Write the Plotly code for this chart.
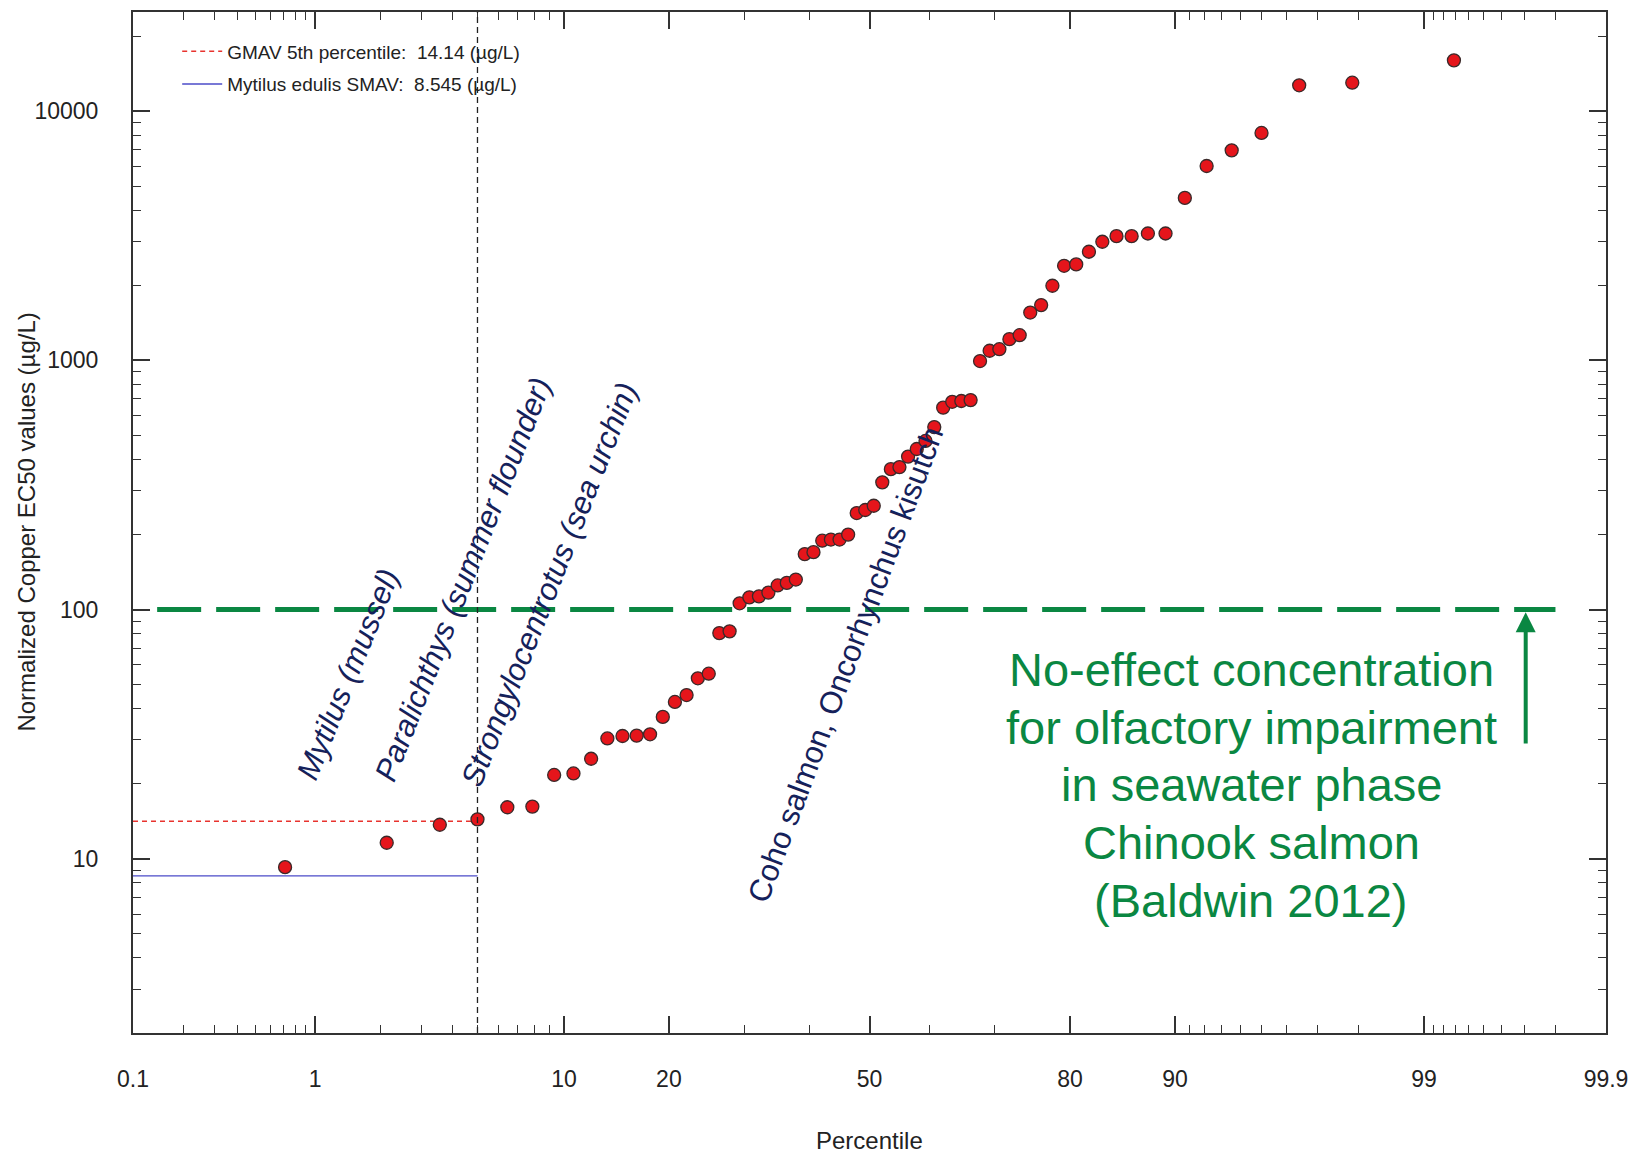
import plotly.graph_objects as go
from statistics import NormalDist
import math

_ND = NormalDist()


def z(p):
    """percentile (0-100) -> probit axis coordinate"""
    return _ND.inv_cdf(p / 100.0)


# ---------------- data ----------------
percentiles = [0.71, 2.14, 3.57, 5.00, 6.43, 7.86, 9.29, 10.71, 12.14, 13.57,
               15.00, 16.43, 17.86, 19.29, 20.71, 22.14, 23.57, 25.00, 26.43, 27.86,
               29.29, 30.71, 32.14, 33.57, 35.00, 36.43, 37.86, 39.29, 40.71, 42.14,
               43.57, 45.00, 46.43, 47.86, 49.29, 50.71, 52.14, 53.57, 55.00, 56.43,
               57.86, 59.29, 60.71, 62.14, 63.57, 65.00, 66.43, 67.86, 69.29, 70.71,
               72.14, 73.57, 75.00, 76.43, 77.86, 79.29, 80.71, 82.14, 83.57, 85.00,
               86.43, 87.86, 89.29, 90.71, 92.14, 93.57, 95.00, 96.43, 97.86, 99.29]
ec50 = [9.26, 11.6, 13.7, 14.4, 16.1, 16.2, 21.7, 22.0, 25.2, 30.4,
        31.1, 31.2, 31.6, 37.1, 42.6, 45.4, 53.0, 55.3, 80.5, 81.8,
        106, 112, 113, 117, 125, 128, 132, 167, 170, 189,
        191, 191, 200, 244, 251, 261, 324, 366, 373, 411,
        441, 475, 540, 646, 682, 687, 693, 994, 1093, 1109,
        1217, 1262, 1556, 1667, 1993, 2396, 2427, 2729, 2992, 3152,
        3152, 3230, 3230, 4486, 6026, 6964, 8176, 12700, 13010, 15990]

x_major = [0.1, 1, 10, 20, 50, 80, 90, 99, 99.9]
x_major_labels = ["0.1", "1", "10", "20", "50", "80", "90", "99", "99.9"]
x_minor = [0.2, 0.3, 0.4, 0.5, 0.6, 0.7, 0.8, 0.9,
           2, 3, 4, 5, 6, 7, 8, 9, 30, 40, 60, 70,
           91, 92, 93, 94, 95, 96, 97, 98,
           99.1, 99.2, 99.3, 99.4, 99.5, 99.6, 99.7, 99.8]
y_major = [10, 100, 1000, 10000]
y_major_labels = ["10", "100", "1000", "10000"]
y_minor = [2, 3, 4, 5, 6, 7, 8, 9,
           20, 30, 40, 50, 60, 70, 80, 90,
           200, 300, 400, 500, 600, 700, 800, 900,
           2000, 3000, 4000, 5000, 6000, 7000, 8000, 9000, 20000]
x_limits = [0.1, 99.9]
y_limits = [2, 25000]

gmav5_pct = 5.0
gmav5_value = 14.14
smav_value = 8.545
noeffect_value = 100
noeffect_span = [0.14, 99.80]
arrow_pct = 99.705
arrow_values = [28.6, 97.5]

species_labels = ["Mytilus (mussel)", "Paralichthys (summer flounder)",
                  "Strongylocentrotus (sea urchin)", "Coho salmon, Oncorhynchus kisutch"]
species_italic = [True, True, True, False]
species_pct = [1.43, 4.41, 8.96, 46.0]
species_val = [55, 132, 126, 60.3]
species_angle = [-68, -68.5, -68.5, -69.5]

note_lines = ["No-effect concentration", "for olfactory impairment",
              "in seawater phase", "Chinook salmon", "(Baldwin 2012)"]
note_y_paper = [0.356, 0.2995, 0.243, 0.1865, 0.130]

legend_gmav = "GMAV 5th percentile:  14.14 (µg/L)"
legend_smav = "Mytilus edulis SMAV:  8.545 (µg/L)"

# ---------------- styles ----------------
FONT = "Liberation Sans, Arial, sans-serif"
GREEN = "#0A8742"
NAVY = "#15215A"
AXC = "#333333"

fig = go.Figure()

# red dashed GMAV 5th percentile
fig.add_trace(go.Scatter(
    x=[z(x_limits[0]), z(gmav5_pct)], y=[gmav5_value, gmav5_value],
    mode="lines", name=legend_gmav, legendgroup="a",
    line=dict(color="#E8332E", width=1.4, dash="5px,4px"), hoverinfo="skip"))
# blue SMAV
fig.add_trace(go.Scatter(
    x=[z(x_limits[0]), z(gmav5_pct)], y=[smav_value, smav_value],
    mode="lines", name=legend_smav, legendgroup="b",
    line=dict(color="#4B4BC8", width=1.4), hoverinfo="skip"))
# green no-effect line
fig.add_trace(go.Scatter(
    x=[z(p) for p in noeffect_span], y=[noeffect_value, noeffect_value],
    mode="lines", showlegend=False,
    line=dict(color=GREEN, width=5, dash="44px,15px"), hoverinfo="skip"))
# data points
fig.add_trace(go.Scatter(
    x=[z(p) for p in percentiles], y=ec50, mode="markers", showlegend=False,
    marker=dict(size=13, color="#E5151B", line=dict(color="#3A2A2A", width=1.3))))

# vertical dashed line at 5th percentile
fig.add_shape(type="line", xref="x", yref="paper",
              x0=z(gmav5_pct), x1=z(gmav5_pct), y0=0, y1=1,
              line=dict(color="#222222", width=1.3, dash="6px,4px"))

annotations = []
for txt, it, p, v, ang in zip(species_labels, species_italic, species_pct,
                              species_val, species_angle):
    annotations.append(dict(
        x=z(p), y=math.log10(v), xref="x", yref="y",
        text=f"<i>{txt}</i>" if it else txt, showarrow=False, textangle=ang,
        font=dict(family=FONT, size=31, color=NAVY),
        xanchor="center", yanchor="middle"))

for line, yp in zip(note_lines, note_y_paper):
    annotations.append(dict(
        x=0.759, y=yp, xref="paper", yref="paper", text=line, showarrow=False,
        font=dict(family=FONT, size=47, color=GREEN),
        xanchor="center", yanchor="middle"))

# arrow
annotations.append(dict(
    x=z(arrow_pct), y=math.log10(arrow_values[1]),
    ax=z(arrow_pct), ay=math.log10(arrow_values[0]),
    xref="x", yref="y", axref="x", ayref="y", text="",
    showarrow=True, arrowhead=2, arrowsize=1.0, arrowwidth=4, arrowcolor=GREEN))

# axis titles
annotations.append(dict(
    x=-0.0726, y=0.5, xref="paper", yref="paper",
    text="Normalized Copper EC50 values (µg/L)", showarrow=False, textangle=-90,
    font=dict(family=FONT, size=24, color="#222222"),
    xanchor="center", yanchor="middle"))
annotations.append(dict(
    x=0.5, y=-0.1056, xref="paper", yref="paper",
    text="Percentile", showarrow=False,
    font=dict(family=FONT, size=24, color="#222222"),
    xanchor="center", yanchor="middle"))

fig.update_layout(
    width=1644, height=1153,
    margin=dict(l=133, r=38, t=10, b=120),
    paper_bgcolor="white", plot_bgcolor="white",
    font=dict(family=FONT, color="#222222"),
    annotations=annotations,
    legend=dict(x=0.03, y=0.980, xanchor="left", yanchor="top",
                bgcolor="rgba(0,0,0,0)", borderwidth=0,
                font=dict(family=FONT, size=19, color="#222222"),
                itemwidth=40,
                traceorder="grouped", tracegroupgap=5),
    xaxis=dict(
        range=[z(x_limits[0]), z(x_limits[1])],
        tickmode="array", tickvals=[z(p) for p in x_major], ticktext=x_major_labels,
        ticks="inside", ticklen=17, tickwidth=1.5, tickcolor=AXC,
        showline=True, linewidth=2, linecolor=AXC, mirror="ticks",
        showgrid=False, zeroline=False,
        tickfont=dict(family=FONT, size=23, color="#222222"),
        ticklabelstandoff=24,
        minor=dict(tickmode="array", tickvals=[z(p) for p in x_minor],
                   ticks="inside", ticklen=8, tickwidth=1.3, tickcolor=AXC,
                   showgrid=False)),
    yaxis=dict(
        type="log",
        range=[math.log10(y_limits[0]), math.log10(y_limits[1])],
        tickmode="array", tickvals=y_major, ticktext=y_major_labels,
        ticks="inside", ticklen=17, tickwidth=1.5, tickcolor=AXC,
        showline=True, linewidth=2, linecolor=AXC, mirror="ticks",
        showgrid=False, zeroline=False,
        tickfont=dict(family=FONT, size=23, color="#222222"),
        ticklabelstandoff=28,
        minor=dict(tickmode="array", tickvals=y_minor,
                   ticks="inside", ticklen=8, tickwidth=1.3, tickcolor=AXC,
                   showgrid=False)),
)

fig.write_html(
    "out.html",
    config={"displayModeBar": False},
    post_script="document.body.style.margin='0';document.body.style.overflow='hidden';",
)
